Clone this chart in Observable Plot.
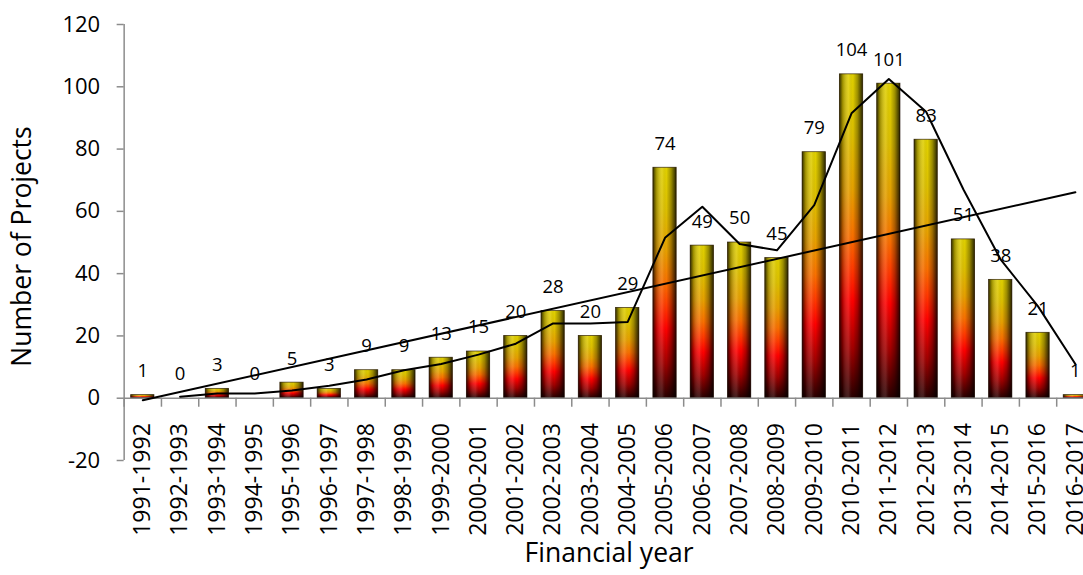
<!DOCTYPE html>
<html>
<head>
<meta charset="utf-8">
<script src="https://cdn.jsdelivr.net/npm/d3@7"></script>
<script src="https://cdn.jsdelivr.net/npm/@observablehq/plot@0.6"></script>
<style>
  html, body { margin: 0; padding: 0; background: white; overflow: hidden; }
  #chart svg { display: block; overflow: hidden; }
</style>
</head>
<body>
<div id="chart"></div>
<script>
// ---- data ----
const years = ["1991-1992","1992-1993","1993-1994","1994-1995","1995-1996","1996-1997","1997-1998","1998-1999","1999-2000","2000-2001","2001-2002","2002-2003","2003-2004","2004-2005","2005-2006","2006-2007","2007-2008","2008-2009","2009-2010","2010-2011","2011-2012","2012-2013","2013-2014","2014-2015","2015-2016","2016-2017"];
const projects = [1,0,3,0,5,3,9,9,13,15,20,28,20,29,74,49,50,45,79,104,101,83,51,38,21,1];
const yTicks = [-20,0,20,40,60,80,100,120];
const yTitle = "Number of Projects";
const xTitle = "Financial year";

const data = years.map((year, i) => ({i, year, v: projects[i]}));
const xDomain = [-0.5, years.length - 0.5];
const yDomain = [-20, 120];

const W = 1083, H = 575;
const mT = 24, mB = 115, mL = 123.65, mR = -10.5;
const pxPerUnit = (H - mT - mB) / (yDomain[1] - yDomain[0]);
const tickLen = 9 / pxPerUnit;

const svg = Plot.plot({
  width: W, height: H,
  marginTop: mT, marginBottom: mB, marginLeft: mL, marginRight: mR,
  x: {domain: xDomain, axis: null},
  y: {domain: yDomain},
  style: {fontFamily: "'Open Sans', sans-serif", background: "white", overflow: "hidden", color: "black"},
  marks: [
    // bars
    Plot.rectY(data, {x1: d => d.i - 0.5, x2: d => d.i + 0.5, y1: 0, y2: "v",
      insetLeft: 7, insetRight: 7, fill: "url(#barV)", ariaLabel: "bars"}),
    Plot.rectY(data, {x1: d => d.i - 0.5, x2: d => d.i + 0.5, y1: 0, y2: "v",
      insetLeft: 7, insetRight: 7, fill: "url(#barH)", stroke: "#1a0a00", strokeOpacity: 0.75, strokeWidth: 0.8, ariaLabel: "bar-shade"}),
    // zero line + category ticks
    Plot.ruleY([0], {stroke: "#8c8c8c", strokeWidth: 1.5}),
    Plot.ruleX(d3.range(years.length + 1), {x: k => k - 0.5, y1: 0, y2: -tickLen, stroke: "#8c8c8c", strokeWidth: 1.5}),
    // y axis line
    Plot.ruleX([xDomain[0]], {y1: yDomain[0], y2: yDomain[1], stroke: "#8c8c8c", strokeWidth: 1.5}),
    Plot.axisY({ticks: yTicks, tickSize: 7, tickPadding: 17, fontSize: 22, stroke: "#8c8c8c", strokeWidth: 1.5,
      tickFormat: d => String(d), label: null}),
    // data labels
    Plot.text(data, {x: "i", y: "v", text: d => String(d.v), dy: -24, fontSize: 18.5, fill: "black"}),
    // moving average (2 period)
    Plot.line(data, Plot.windowY({k: 2, anchor: "end", strict: true, reduce: "mean"},
      {x: "i", y: "v", stroke: "black", strokeWidth: 2})),
    // linear trend
    Plot.linearRegressionY(data, {x: "i", y: "v", stroke: "black", strokeWidth: 2, ci: 0}),
    // category labels
    Plot.text(data, {x: "i", y: 0, text: "year", rotate: -90, textAnchor: "end", dy: 25, fontSize: 23, fill: "black"}),
    // titles
    Plot.text([yTitle], {frameAnchor: "left", text: d => d, rotate: -90, textAnchor: "middle", lineAnchor: "top", dx: -112, dy: 4, fontSize: 26.5, fill: "black"}),
    Plot.text([xTitle], {frameAnchor: "bottom", text: d => d, textAnchor: "middle", dy: 101, fontSize: 26.5, fill: "black"})
  ]
});

// gradients
const root = d3.select(svg);
const defs = root.insert("defs", ":first-child");
const gv = defs.append("linearGradient").attr("id", "barV").attr("x1", 0).attr("y1", 0).attr("x2", 0).attr("y2", 1);
[[0, "#e0d000"], [0.18, "#dcc000"], [0.36, "#e6a000"], [0.5, "#f87000"], [0.6, "#ff3a00"], [0.7, "#ff0000"], [0.85, "#a00000"], [1, "#280000"]]
  .forEach(([o, c]) => gv.append("stop").attr("offset", o).attr("stop-color", c));
const gh = defs.append("linearGradient").attr("id", "barH").attr("x1", 0).attr("y1", 0).attr("x2", 1).attr("y2", 0);
[[0, "#000", 0.78], [0.14, "#000", 0.3], [0.4, "#fff", 0.12], [0.58, "#000", 0], [0.78, "#000", 0.3], [1, "#000", 0.82]]
  .forEach(([o, c, a]) => gh.append("stop").attr("offset", o).attr("stop-color", c).attr("stop-opacity", a));
const gt = defs.append("linearGradient").attr("id", "barTop").attr("x1", 0).attr("y1", 0).attr("x2", 0).attr("y2", 1);
[[0, "#fff200", 1], [1, "#e8d400", 1]]
  .forEach(([o, c, a]) => gt.append("stop").attr("offset", o).attr("stop-color", c).attr("stop-opacity", a));

// bevel chevron on top of each bar
root.selectAll('g[aria-label="bar-shade"] rect').each(function() {
  const r = d3.select(this);
  const x = +r.attr("x"), y = +r.attr("y"), w = +r.attr("width"), h = +r.attr("height");
  if (!(h > 2)) return;
  const depth = Math.min(8, h / 2);
  d3.select(this.parentNode).append("polygon")
    .attr("points", `${x + 0.8},${y + 0.8} ${x + w - 0.8},${y + 0.8} ${x + w / 2},${y + depth}`)
    .attr("fill", "url(#barTop)").attr("stroke", "none");
});

document.getElementById("chart").appendChild(svg);
</script>
</body>
</html>
